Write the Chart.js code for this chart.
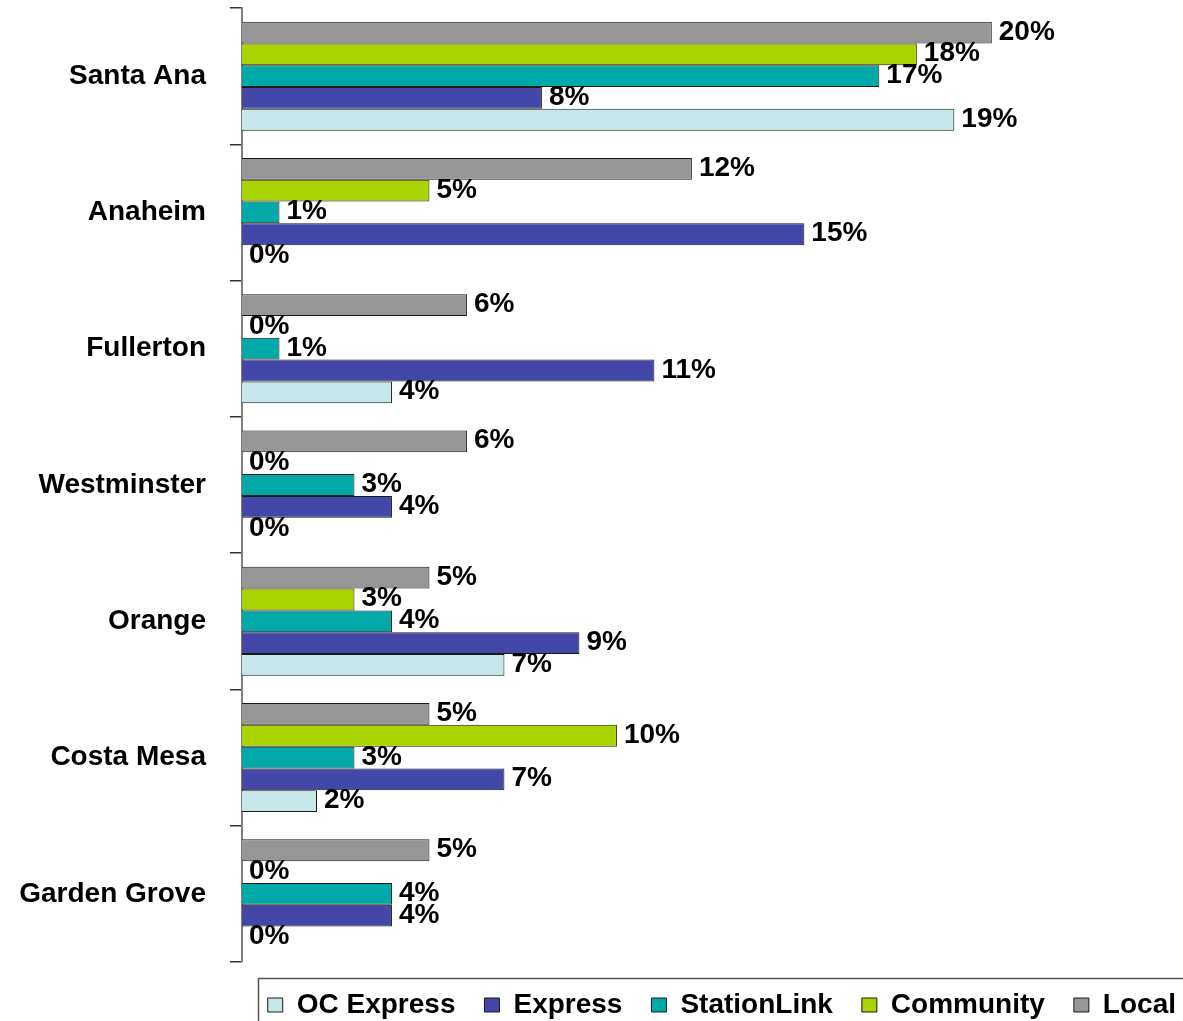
<!DOCTYPE html>
<html>
<head>
<meta charset="utf-8">
<script src="https://cdn.jsdelivr.net/npm/chart.js@4.4.1/dist/chart.umd.min.js"></script>
<style>
  html, body { margin: 0; padding: 0; background: #fff; }
  #wrap { width: 1183px; height: 1021px; }
</style>
</head>
<body>
<div id="wrap"><canvas id="c" width="1183" height="1021"></canvas></div>
<script>
const categories = ["Santa Ana", "Anaheim", "Fullerton", "Westminster", "Orange", "Costa Mesa", "Garden Grove"];
const seriesNames = ["Local", "Community", "StationLink", "Express", "OC Express"];
const localValues = [20, 12, 6, 6, 5, 5, 5];
const communityValues = [18, 5, 0, 0, 3, 10, 0];
const stationLinkValues = [17, 1, 1, 3, 4, 3, 4];
const expressValues = [8, 15, 11, 4, 9, 7, 4];
const ocExpressValues = [19, 0, 4, 0, 7, 2, 0];

const seriesColors = ["#969696", "#AAD400", "#00A8A8", "#4347A8", "#C5E7EA"];
const allValues = [localValues, communityValues, stationLinkValues, expressValues, ocExpressValues];

const FONT = "'Liberation Sans', Arial, sans-serif";

const valueLabels = {
  id: 'valueLabels',
  afterDatasetsDraw(chart) {
    const ctx = chart.ctx;
    ctx.save();
    ctx.font = "bold 28px " + FONT;
    ctx.fillStyle = "#000";
    ctx.textAlign = "left";
    ctx.textBaseline = "alphabetic";
    chart.data.datasets.forEach((ds, di) => {
      const meta = chart.getDatasetMeta(di);
      meta.data.forEach((el, i) => {
        ctx.fillText(ds.data[i] + "%", el.x + 7, el.y + 7);
      });
    });
    ctx.restore();
  }
};

const legendFrame = {
  id: 'legendFrame',
  afterDraw(chart) {
    const lg = chart.legend;
    if (!lg || !lg.legendHitBoxes || !lg.legendHitBoxes.length) return;
    const hb = lg.legendHitBoxes[0];
    const ctx = chart.ctx;
    ctx.save();
    ctx.strokeStyle = "#555";
    ctx.lineWidth = 1.5;
    ctx.beginPath();
    const x0 = Math.round(hb.left - 10) + 0.5;
    const y0 = 978.5;
    ctx.moveTo(x0, chart.height + 5);
    ctx.lineTo(x0, y0);
    ctx.lineTo(chart.width + 5, y0);
    ctx.stroke();
    ctx.restore();
  }
};

new Chart(document.getElementById('c'), {
  type: 'bar',
  data: {
    labels: categories,
    datasets: seriesNames.map((name, k) => ({
      label: name,
      data: allValues[k],
      backgroundColor: seriesColors[k],
      borderColor: "#1a1a1a",
      borderWidth: 1,
      categoryPercentage: 0.8,
      barPercentage: 1.0
    }))
  },
  options: {
    indexAxis: 'y',
    responsive: false,
    animation: false,
    devicePixelRatio: 1,
    layout: { padding: { top: 8, left: 0, right: -22, bottom: 0 } },
    scales: {
      x: {
        display: false,
        min: 0,
        max: 25.1
      },
      y: {
        afterFit(scale) {
          scale.width = 242;
          scale.paddingTop = 0;
          scale.paddingBottom = 0;
        },
        grid: {
          display: true,
          drawOnChartArea: false,
          drawTicks: true,
          tickLength: 12,
          color: "#333",
          lineWidth: 1.5
        },
        border: { display: true, color: "#808080", width: 2 },
        ticks: {
          color: "#000",
          padding: 24,
          font: { family: FONT, size: 28, weight: 'bold' }
        }
      }
    },
    plugins: {
      tooltip: { enabled: false },
      legend: {
        position: 'bottom',
        align: 'end',
        reverse: true,
        maxHeight: 59,
        labels: {
          boxWidth: 15,
          boxHeight: 14,
          padding: 29,
          color: "#000",
          font: { family: FONT, size: 28, weight: 'bold' }
        }
      }
    }
  },
  plugins: [valueLabels, legendFrame]
});
</script>
</body>
</html>
